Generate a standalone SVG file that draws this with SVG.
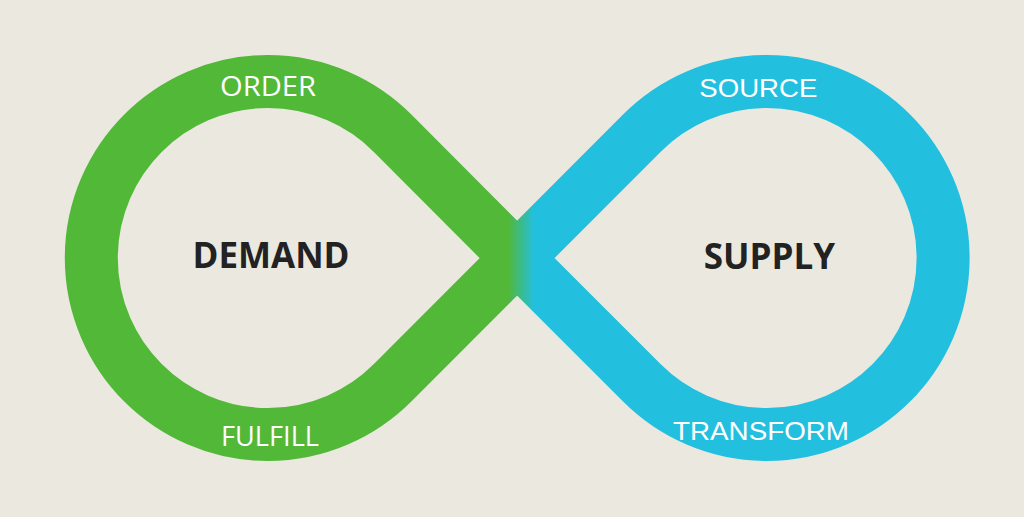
<svg xmlns="http://www.w3.org/2000/svg" width="1024" height="517" viewBox="0 0 1024 517">
  <defs>
    <linearGradient id="loopGrad" gradientUnits="userSpaceOnUse" x1="0" y1="0" x2="1024" y2="0">
      <stop offset="0" stop-color="#52b838"/>
      <stop offset="0.496" stop-color="#52b838"/>
      <stop offset="0.522" stop-color="#23bfdf"/>
      <stop offset="1" stop-color="#23bfdf"/>
    </linearGradient>
    <style>
      .band { fill: none; stroke: url(#loopGrad); stroke-width: 53; }
      .step { fill: #ffffff; text-anchor: middle; font-size: 26.5px; }
      .os { font-family: "Open Sans", "Noto Sans", sans-serif; }
      .ar { font-family: "Liberation Sans", Arial, sans-serif; }
      .main { fill: #222222; text-anchor: middle; font-family: "Open Sans", "Noto Sans", sans-serif; font-weight: 700; font-size: 35px; }
    </style>
  </defs>
  <rect width="1024" height="517" fill="#ebe8e0"/>
  <g id="connectors">
    <path class="band" d="M517,258 L392.6,133.2 A176.5,176.5 0 1 0 392.6,382.8 L641.8,133.2 A176.5,176.5 0 1 1 641.8,382.8 Z"/>
  </g>
  <g id="demand">
    <text class="main" x="271" y="268.3">DEMAND</text>
  </g>
  <g id="supply">
    <text class="main" x="769.5" y="269.3">SUPPLY</text>
  </g>
  <g id="order">
    <text class="step os" x="268" y="95.7" textLength="96" lengthAdjust="spacingAndGlyphs">ORDER</text>
  </g>
  <g id="fulfill">
    <text class="step os" x="270" y="445.7" textLength="98" lengthAdjust="spacingAndGlyphs">FULFILL</text>
  </g>
  <g id="source">
    <text class="step ar" x="758.3" y="96.7" textLength="118" lengthAdjust="spacingAndGlyphs">SOURCE</text>
  </g>
  <g id="transform">
    <text class="step ar" x="761" y="440" textLength="176" lengthAdjust="spacingAndGlyphs">TRANSFORM</text>
  </g>
</svg>
